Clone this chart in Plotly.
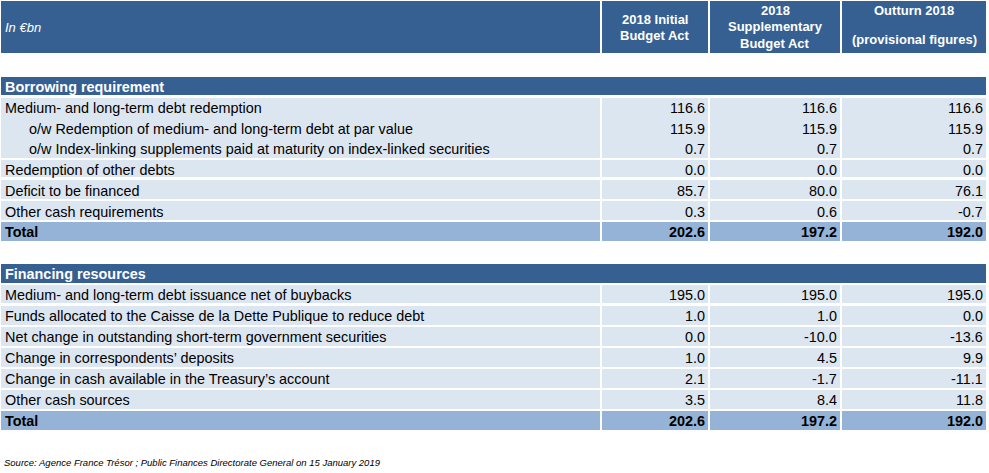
import plotly.graph_objects as go

W, H = 989, 473

# ---------------- data ----------------
unit_label = "In €bn"
column_headers = [
    ["2018 Initial", "Budget Act"],
    ["2018", "Supplementary", "Budget Act"],
    ["Outturn 2018", "(provisional figures)"],
]

borrowing_title = "Borrowing requirement"
borrowing_labels = [
    "Medium- and long-term debt redemption",
    "o/w Redemption of medium- and long-term debt at par value",
    "o/w Index-linking supplements paid at maturity on index-linked securities",
    "Redemption of other debts",
    "Deficit to be financed",
    "Other cash requirements",
]
borrowing_indent = [0, 1, 1, 0, 0, 0]
borrowing_initial = [116.6, 115.9, 0.7, 0.0, 85.7, 0.3]
borrowing_supplementary = [116.6, 115.9, 0.7, 0.0, 80.0, 0.6]
borrowing_outturn = [116.6, 115.9, 0.7, 0.0, 76.1, -0.7]
borrowing_total = [202.6, 197.2, 192.0]
borrowing_groups = [[0, 1, 2], [3], [4], [5]]

financing_title = "Financing resources"
financing_labels = [
    "Medium- and long-term debt issuance net of buybacks",
    "Funds allocated to the Caisse de la Dette Publique to reduce debt",
    "Net change in outstanding short-term government securities",
    "Change in correspondents\u2019 deposits",
    "Change in cash available in the Treasury\u2019s account",
    "Other cash sources",
]
financing_indent = [0, 0, 0, 0, 0, 0]
financing_initial = [195.0, 1.0, 0.0, 1.0, 2.1, 3.5]
financing_supplementary = [195.0, 1.0, -10.0, 4.5, -1.7, 8.4]
financing_outturn = [195.0, 0.0, -13.6, 9.9, -11.1, 11.8]
financing_total = [202.6, 197.2, 192.0]
financing_groups = [[0], [1], [2], [3], [4], [5]]

total_label = "Total"
source_text = "Source: Agence France Trésor ; Public Finances Directorate General on 15 January 2019"

# ---------------- style ----------------
DARK = "#366092"
LIGHT = "#DCE6F1"
MID = "#95B3D7"
FONT = "Liberation Sans, Arial, sans-serif"
BODY_SIZE = 14.4
HEAD_SIZE = 13

X0, X1 = 1, 986
COLW = [599, 2, 106, 2, 130, 2, 144]
COL_RIGHT = [708, 840, 986]          # right edges of the value columns
LABEL_X = 3.5
INDENT_PX = 24
GAP = 2
TEXT_DY = 1
HEADER_TOP, HEADER_BOTTOM = 1, 54
SECTION_TOPS = [77, 264]
SECTION_PITCH = [20.7, 20.95]

fig = go.Figure()
annotations = []


def yd(top, bottom):
    return [1 - bottom / H, 1 - top / H]


def fmt(v):
    return f"{v:.1f}"


def add_text(text, xpx, ypx, anchor, size=BODY_SIZE, color="black", family=FONT):
    annotations.append(dict(
        text=text, x=xpx / W, y=1 - ypx / H, xref="paper", yref="paper",
        xanchor=anchor, yanchor="middle", showarrow=False, borderpad=0,
        font=dict(family=family, size=size, color=color),
    ))


def add_fill_block(top, bottom, nrows, fill):
    fig.add_trace(go.Table(
        domain=dict(x=[X0 / W, X1 / W], y=yd(top, bottom)),
        columnwidth=COLW,
        header=dict(
            values=[[""] * nrows for _ in COLW],
            height=(bottom - top) / nrows,
            fill=dict(color=[fill, "white", fill, "white", fill, "white", fill]),
            line=dict(width=0, color=fill),
        ),
        cells=dict(values=[]),
    ))


def add_section(top, pitch, title, labels, indent, c1, c2, c3, totals, groups):
    # full-width section title band
    fig.add_trace(go.Table(
        domain=dict(x=[X0 / W, X1 / W], y=yd(top, round(top + pitch - GAP))),
        columnwidth=[1],
        header=dict(
            values=[[""]],
            height=round(top + pitch - GAP) - top,
            fill=dict(color=DARK),
            line=dict(width=0, color=DARK),
        ),
        cells=dict(values=[]),
    ))
    centre = lambda r: top + r * pitch + (pitch - GAP) / 2 + TEXT_DY
    add_text(f"<b>{title}</b>", LABEL_X, centre(0), "left", color="white")
    row = 1
    for g in groups:
        t = round(top + row * pitch)
        b = round(top + (row + len(g)) * pitch - GAP)
        add_fill_block(t, b, len(g), LIGHT)
        for k, i in enumerate(g):
            yc = centre(row + k)
            add_text(labels[i], LABEL_X + INDENT_PX * indent[i], yc, "left")
            for xr, col in zip(COL_RIGHT, (c1, c2, c3)):
                add_text(fmt(col[i]), xr - 2, yc, "right")
        row += len(g)
    t = round(top + row * pitch)
    b = round(top + (row + 1) * pitch - GAP)
    add_fill_block(t, b, 1, MID)
    yc = centre(row)
    add_text(f"<b>{total_label}</b>", LABEL_X, yc, "left")
    for xr, v in zip(COL_RIGHT, totals):
        add_text(f"<b>{fmt(v)}</b>", xr - 2, yc, "right")


# top header band
add_fill_block(HEADER_TOP, HEADER_BOTTOM, 1, DARK)

add_section(SECTION_TOPS[0], SECTION_PITCH[0], borrowing_title, borrowing_labels,
            borrowing_indent, borrowing_initial, borrowing_supplementary,
            borrowing_outturn, borrowing_total, borrowing_groups)
add_section(SECTION_TOPS[1], SECTION_PITCH[1], financing_title, financing_labels,
            financing_indent, financing_initial, financing_supplementary,
            financing_outturn, financing_total, financing_groups)

# header texts
mid_y = (HEADER_TOP + HEADER_BOTTOM) / 2
add_text(f"<i>{unit_label}</i>", 4, mid_y, "left", size=HEAD_SIZE, color="white")
col_spans = [(602, 708), (710, 840), (842, 986)]
line_pitch = [17, 17, 29]
centers = [27.5, 27, 24.5]
for (a, b), lines, lp, cy in zip(col_spans, column_headers, line_pitch, centers):
    n = len(lines)
    for k, s in enumerate(lines):
        yy = cy + (k - (n - 1) / 2) * lp
        add_text(f"<b>{s}</b>", (a + b) / 2, yy, "center", size=HEAD_SIZE, color="white")

add_text(f"<i>{source_text}</i>", 3, 462, "left", size=9.5)

fig.update_layout(
    width=W, height=H,
    margin=dict(l=0, r=0, t=0, b=0),
    paper_bgcolor="white",
    plot_bgcolor="white",
    annotations=annotations,
    showlegend=False,
)

fig.write_html("out.html", config={"displayModeBar": False},
               post_script="document.body.style.margin='0';")
